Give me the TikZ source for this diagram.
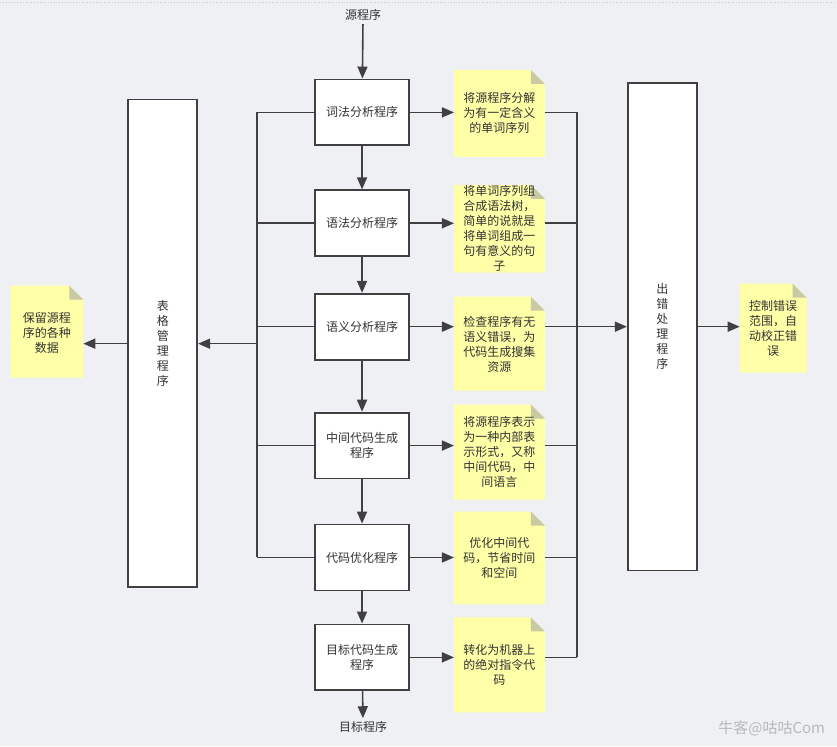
\documentclass[tikz,border=0pt]{standalone}
\usepackage{fontspec}
\setmainfont{Noto Sans CJK SC}
\usetikzlibrary{arrows.meta,calc}
\pgfdeclarelayer{paper}
\pgfdeclarelayer{back}
\pgfsetlayers{paper,back,main}
\definecolor{bgcol}{HTML}{EEF0F4}
\definecolor{linecol}{HTML}{404040}
\definecolor{txtcol}{HTML}{333333}
\definecolor{notefill}{HTML}{FFFFA8}
\definecolor{foldfill}{HTML}{C9C9A4}
\tikzset{
  conn/.style={draw=linecol, line width=1.6pt},
  arr/.style={conn, -{Triangle[length=12pt,width=10pt]}},
  stepbox/.style={draw=linecol, line width=1.8pt, fill=white, minimum width=94pt,
    minimum height=66pt, align=center, inner sep=0pt, text=txtcol,
    font=\fontsize{12}{15}\selectfont},
  tallbox/.style={stepbox, minimum width=69pt, minimum height=488pt},
  note/.style={align=center, inner sep=0pt, text=txtcol,
    font=\fontsize{12}{15}\selectfont},
  label/.style={text=txtcol, font=\fontsize{12}{15}\selectfont},
}
% folded sticky note drawn behind its text node
\newcommand{\notepaper}[5]{% name, center x, center y, width, height
  \begin{pgfonlayer}{back}
    \fill[notefill] ($(#2,#3)+(-#4/2,-#5/2)$) -- ($(#2,#3)+(#4/2-14,-#5/2)$)
      -- ($(#2,#3)+(#4/2,-#5/2+14)$) -- ($(#2,#3)+(#4/2,#5/2)$)
      -- ($(#2,#3)+(-#4/2,#5/2)$) -- cycle;
    \fill[foldfill] ($(#2,#3)+(#4/2-14,-#5/2)$) -- ($(#2,#3)+(#4/2,-#5/2+14)$)
      -- ($(#2,#3)+(#4/2-14,-#5/2+14)$) -- cycle;
  \end{pgfonlayer}
  \coordinate (#1-nw) at ($(#2,#3)+(-#4/2,0)$);
  \coordinate (#1-ne) at ($(#2,#3)+(#4/2,0)$);
}
\begin{document}
\begin{tikzpicture}[x=1pt,y=-1pt]
\begin{pgfonlayer}{paper}
  \fill[bgcol] (0,0) rectangle (837,747);
  \draw[gray!45, dotted, line width=0.8pt] (0,2) -- (837,2);
\end{pgfonlayer}
\useasboundingbox (0,0) rectangle (837,747);

% input / output labels
\node[label] (src) at (363,15) {源程序};
\node[label] (dst) at (363,728) {目标程序};

% compiler phases
\node[stepbox] (lex) at (362,112.5) {词法分析程序};
\node[stepbox] (syn) at (362,223.5) {语法分析程序};
\node[stepbox] (sem) at (362,327) {语义分析程序};
\node[stepbox] (mid) at (362,446) {中间代码生成\\程序};
\node[stepbox] (opt) at (362,558) {代码优化程序};
\node[stepbox] (gen) at (362,658) {目标代码生成\\程序};

% side managers
\node[tallbox] (tab) at (162.5,343.5) {表\\格\\管\\理\\程\\序};
\node[tallbox] (err) at (662.5,327) {出\\错\\处\\理\\程\\序};

% explanatory notes
\notepaper{n1}{499.5}{113.5}{91}{87}
\node[note] (n1) at (499.5,113.5) {将源程序分解\\为有一定含义\\的单词序列};
\notepaper{n2}{499.5}{229}{91}{88}
\node[note] (n2) at (499.5,229) {将单词序列组\\合成语法树，\\简单的说就是\\将单词组成一\\句有意义的句\\子};
\notepaper{n3}{499.5}{344}{91}{94}
\node[note] (n3) at (499.5,344.5) {检查程序有无\\语义错误，为\\代码生成搜集\\资源};
\notepaper{n4}{499.5}{452.5}{91}{95}
\node[note] (n4) at (499.5,452.5) {将源程序表示\\为一种内部表\\示形式，又称\\中间代码，中\\间语言};
\notepaper{n5}{499.5}{558.5}{91}{93}
\node[note] (n5) at (499.5,558.5) {优化中间代\\码，节省时间\\和空间};
\notepaper{n6}{499.5}{665.5}{91}{95}
\node[note] (n6) at (499.5,665.5) {转化为机器上\\的绝对指令代\\码};
\notepaper{nl}{46.5}{332}{73}{92}
\node[note] (nl) at (46.5,333) {保留源程\\序的各种\\数据};
\notepaper{nr}{773.5}{328.5}{67}{89}
\node[note] (nr) at (773.5,328.5) {控制错误\\范围，自\\动校正错\\误};

% main pipeline
\draw[arr] (src) -- (lex);
\draw[arr] (lex) -- (syn);
\draw[arr] (syn) -- (sem);
\draw[arr] (sem) -- (mid);
\draw[arr] (mid) -- (opt);
\draw[arr] (opt) -- (gen);
\draw[arr] (gen) -- (dst);

% phase -> note
\foreach \b/\n in {lex/n1,syn/n2,sem/n3,mid/n4,opt/n5,gen/n6}
  \draw[arr] (\b.east) -- (\b.east -| \n-nw);

% left bus to the table manager
\coordinate (lb1) at (257,112.5);
\coordinate (lb5) at (257,558);
\coordinate (lbt) at (257,344);
\draw[conn] (lb1) -- (lb5);
\foreach \b in {lex,syn,sem,mid,opt}
  \draw[conn] (\b.west -| lb1) -- (\b.west);
\draw[arr] (lbt) -- (tab.east |- lbt);
\draw[arr] (tab.west |- lbt) -- (nl-ne |- lbt);

% right bus to the error handler
\coordinate (rb1) at (577,112.5);
\coordinate (rb6) at (577,658);
\coordinate (rbe) at (577,327);
\draw[conn] (rb1) -- (rb6);
\foreach \b/\n in {lex/n1,syn/n2,sem/n3,mid/n4,opt/n5,gen/n6}
  \draw[conn] (\b.east -| \n-ne) -- (\b.east -| rb1);
\draw[arr] (rbe) -- (err.west |- rbe);
\draw[arr] (err.east |- rbe) -- (nr-nw |- rbe);

% watermark
\node[text=gray!55, font=\fontsize{15}{18}\selectfont, anchor=east] (wm) at (829,729) {牛客@咕咕Com};
\end{tikzpicture}
\end{document}
